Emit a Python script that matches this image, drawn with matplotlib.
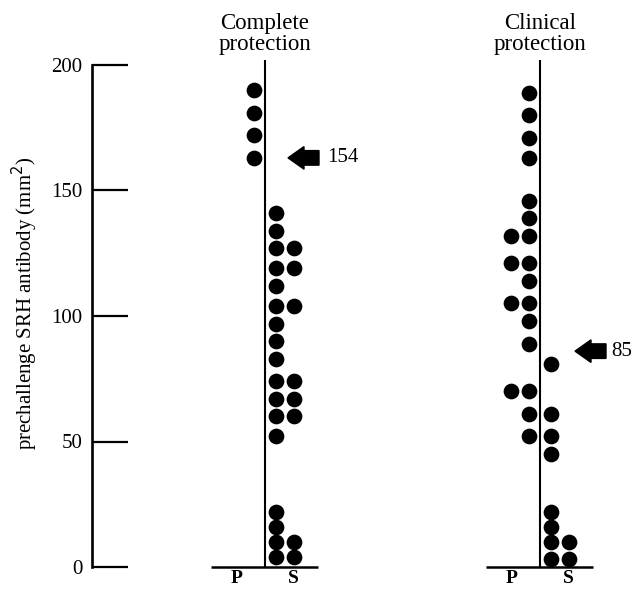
import matplotlib.pyplot as plt

plt.rcParams["font.family"] = ["Liberation Serif", "DejaVu Serif"]

# prechallenge SRH antibody (mm^2), one dot per subject
complete_p = [190, 181, 172, 163]
complete_s_inner = [141, 134, 127, 119, 112, 104, 97, 90, 83, 74, 67, 60, 52, 22, 16, 10, 4]
complete_s_outer = [127, 119, 104, 74, 67, 60, 10, 4]

clinical_p_inner = [189, 180, 171, 163, 146, 139, 132, 121, 114, 105, 98, 89, 70, 61, 52]
clinical_p_outer = [132, 121, 105, 70]
clinical_s_inner = [81, 61, 52, 45, 22, 16, 10, 3]
clinical_s_outer = [10, 3]

titles = ["Complete\nprotection", "Clinical\nprotection"]
cutoff_labels = ["154", "85"]
cutoff_pos = [163, 86]
y_ticks = [0, 50, 100, 150, 200]

# layout (horizontal units are pixels of the figure)
panel_x = [265, 540]
arrow_tip = [23, 35]
text_gap = [39, 36]
inner, outer = 11, 29

fig = plt.figure(figsize=(6.35, 5.9), dpi=100)
ax = fig.add_axes([92 / 635, 23 / 590, 543 / 635, 502 / 590])
ax.set_xlim(92, 635)
ax.set_ylim(0, 200)

for side in ["top", "right", "bottom"]:
    ax.spines[side].set_visible(False)
ax.spines["left"].set_linewidth(1.9)
ax.set_xticks([])
ax.set_yticks(y_ticks)
ax.tick_params(axis="y", direction="in", length=26, width=1.6, pad=7, labelsize=15)

groups = [
    [(complete_p, -inner), (complete_s_inner, inner), (complete_s_outer, outer)],
    [(clinical_p_inner, -inner), (clinical_p_outer, -outer),
     (clinical_s_inner, inner), (clinical_s_outer, outer)],
]

for i, cx in enumerate(panel_x):
    ax.vlines(cx, 0, 202, color="black", linewidth=1.5, clip_on=False)
    ax.hlines(0, cx - 54, cx + 53, color="black", linewidth=1.8, clip_on=False)
    for values, dx in groups[i]:
        ax.scatter([cx + dx] * len(values), values, s=128, color="black",
                   linewidths=0, clip_on=False, zorder=3)
    ax.text(cx, 212.5, titles[i], ha="center", va="center", fontsize=16.5,
            linespacing=1.0)
    ax.text(cx - 28, -6.4, "P", ha="center", va="baseline", fontsize=14, fontweight="bold")
    ax.text(cx + 28, -6.4, "S", ha="center", va="baseline", fontsize=14, fontweight="bold")

    tip = cx + arrow_tip[i]
    ax.arrow(tip + 31, cutoff_pos[i], -31, 0, width=5.8, head_width=9,
             head_length=16, length_includes_head=True, color="black", clip_on=False)
    ax.text(tip + text_gap[i], cutoff_pos[i], cutoff_labels[i], ha="left", va="center",
            fontsize=15)

fig.text(25 / 635, 1 - 303 / 590, "prechallenge SRH antibody (mm$^2$)",
         rotation=90, ha="center", va="center", fontsize=15)

fig.savefig("out.png", dpi=100)
